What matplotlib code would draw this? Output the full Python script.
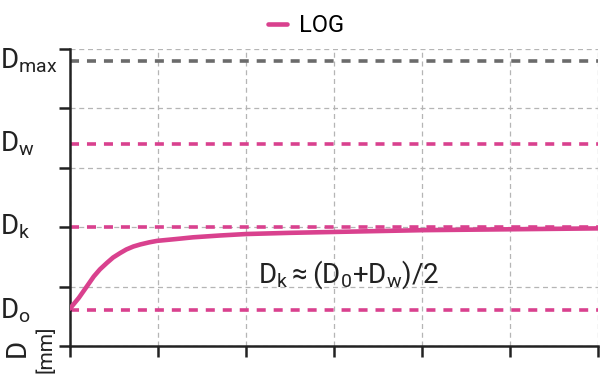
import numpy as np
import matplotlib
matplotlib.use("Agg")
import matplotlib.pyplot as plt

# curve values
t = [0.0, 0.1, 0.19, 0.27, 0.34, 0.42, 0.49, 0.57, 0.64, 0.72, 0.8, 0.9, 0.99,
     1.2, 1.4, 1.7, 2.0, 2.5, 3.0, 3.5, 4.0, 5.0, 6.0]
d_log = [0.63, 0.81, 1.0, 1.17, 1.29, 1.40, 1.49, 1.565, 1.625, 1.675, 1.71, 1.745, 1.77,
         1.80, 1.83, 1.86, 1.885, 1.905, 1.92, 1.935, 1.95, 1.965, 1.98]

# reference levels
levels = [4.8, 3.4, 2.0, 0.6]
level_labels = [r"$\mathrm{D}_{\mathrm{max}}$", r"$\mathrm{D}_{\mathrm{w}}$",
                r"$\mathrm{D}_{\mathrm{k}}$", r"$\mathrm{D}_{\mathrm{o}}$"]
level_colors = ["#6b6b6b", "#d9418e", "#d9418e", "#d9418e"]

font = "Roboto"
plt.rcParams["font.family"] = [font, "DejaVu Sans"]
plt.rcParams["mathtext.fontset"] = "custom"
plt.rcParams["mathtext.rm"] = font
plt.rcParams["mathtext.it"] = font

pink = "#d9418e"
dark = "#222222"

fig = plt.figure(figsize=(6, 3.74), dpi=100)
ax = fig.add_axes([70 / 600, 28 / 374, 528 / 600, 297 / 374])

ax.set_xlim(0, 6)
ax.set_ylim(0, 5)
ax.set_xticks(range(7))
ax.set_yticks(range(6))
ax.set_xticklabels([])
ax.set_yticklabels([])
ax.grid(True, color="#b5b5b5", linestyle=(0, (4, 3)), linewidth=0.9)
ax.set_axisbelow(True)
for s in ["top", "right"]:
    ax.spines[s].set_visible(False)
for s in ["left", "bottom"]:
    ax.spines[s].set_linewidth(1.8)
    ax.spines[s].set_color(dark)
ax.tick_params(length=8, width=1.8, color=dark)

for lv, c in zip(levels, level_colors):
    ax.axhline(lv, color=c, linestyle=(0, (2.5, 2.2)), linewidth=2.6, zorder=2)

ax.plot(t, d_log, color=pink, linewidth=3.3, solid_capstyle="round",
        solid_joinstyle="round", zorder=3, label="LOG")

for lv, lab in zip(levels, level_labels):
    ax.text(-0.8, lv, lab, fontsize=20, ha="left", va="center", color=dark, clip_on=False)

ax.text(2.14, 1.2,
        r"$\mathrm{D}_{\mathrm{k}}{\approx}(\mathrm{D}_{0}{+}\mathrm{D}_{\mathrm{w}})/2$",
        fontsize=20, color=dark, ha="left", va="center")

fig.text(17 / 600, 1 - 348 / 374, "D", fontsize=20, rotation=90, ha="center", va="center", color=dark)
fig.text(46 / 600, 1 - 349 / 374, "[mm]", fontsize=15, rotation=90, ha="center", va="center", color=dark)

fig.legend(loc="upper center", bbox_to_anchor=(0.51, 1.02), frameon=False, fontsize=17,
           handlelength=0.8, handletextpad=0.5)

fig.savefig("out.png", dpi=100)
